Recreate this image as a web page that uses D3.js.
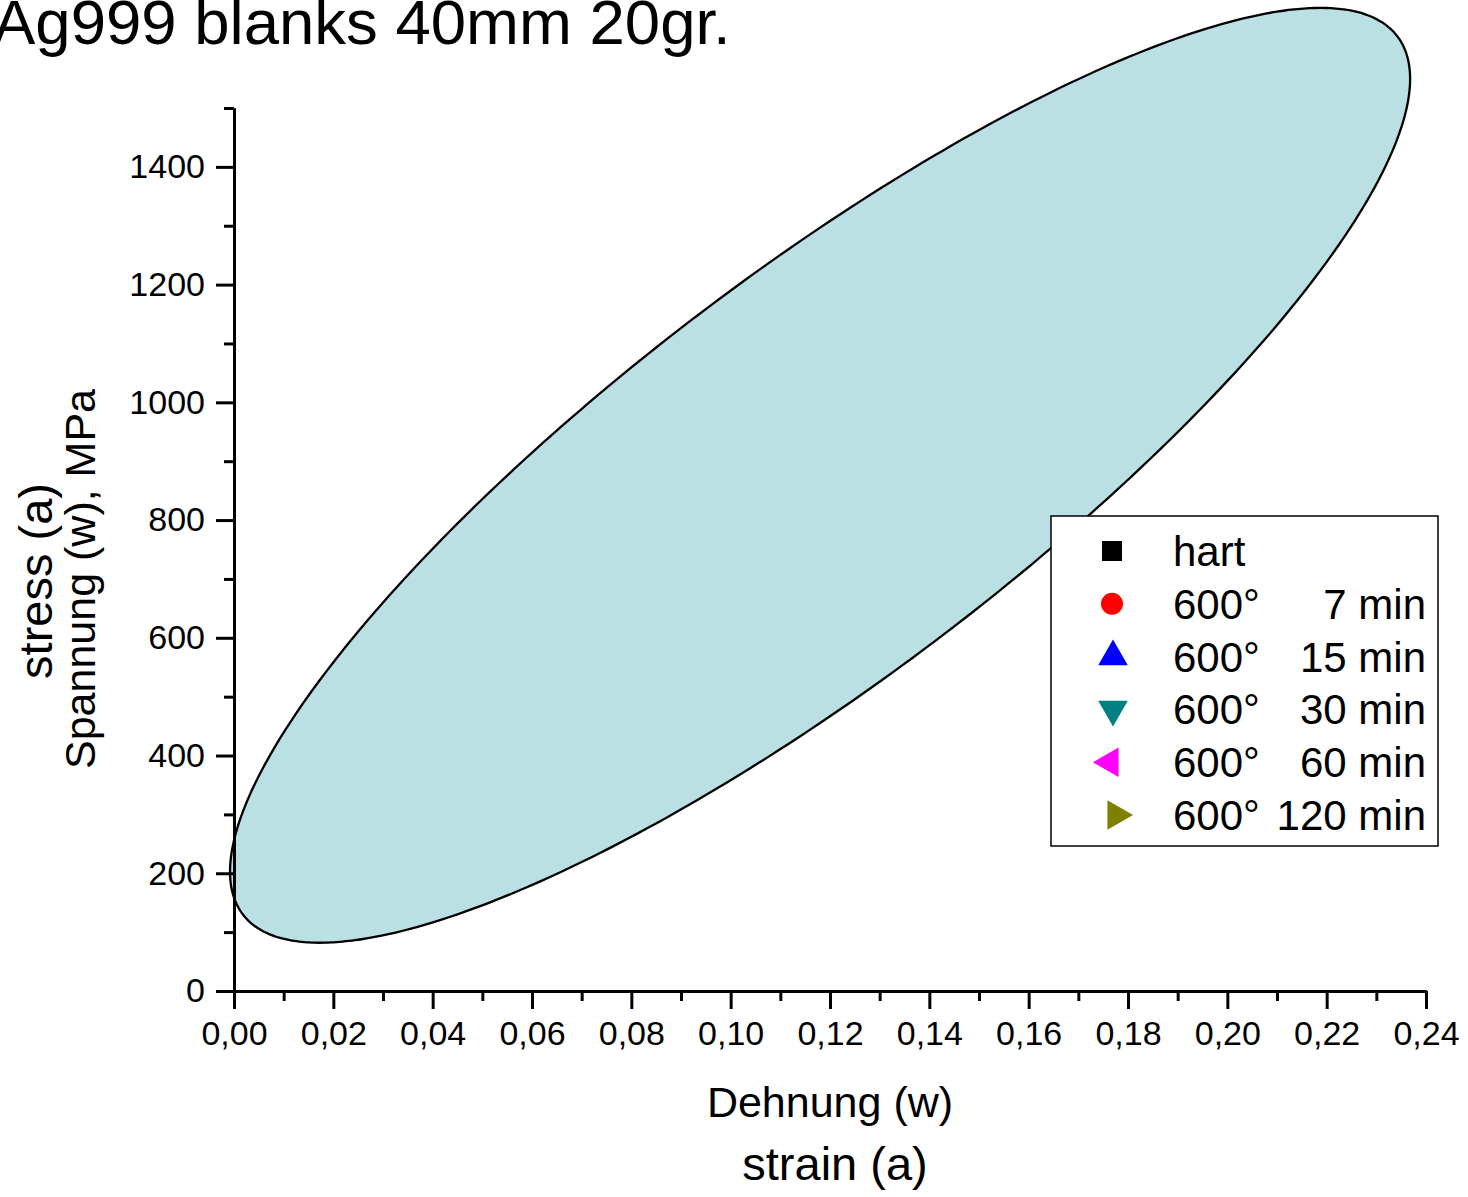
<!DOCTYPE html>
<html>
<head>
<meta charset="utf-8">
<script src="https://cdn.jsdelivr.net/npm/d3@7"></script>
<style>
  html, body { margin: 0; padding: 0; background: #fff; }
  svg { display: block; }
  text { font-family: "Liberation Sans", Arial, Helvetica, sans-serif; fill: #000; }
</style>
</head>
<body>
<svg id="chart" width="1468" height="1197"></svg>
<script>
// Axis ranges and ticks
const xDomain = [0, 0.24];
const yDomain = [0, 1500];
const xMajorTicks = [0, 0.02, 0.04, 0.06, 0.08, 0.10, 0.12, 0.14, 0.16, 0.18, 0.20, 0.22, 0.24];
const xMinorTicks = [0.01, 0.03, 0.05, 0.07, 0.09, 0.11, 0.13, 0.15, 0.17, 0.19, 0.21, 0.23];
const yMajorTicks = [0, 200, 400, 600, 800, 1000, 1200, 1400];
const yMinorTicks = [100, 300, 500, 700, 900, 1100, 1300, 1500];

// Scatter band drawn as an ellipse in data units:
// x = cx + rx·cos t, y = cy + ry·cos(t − phase)
const bandCenter = [0.118, 876];
const bandRadius = [0.1188, 794];
const bandPhaseDeg = 32;

// Legend series
const seriesTemp = ["hart", "600°", "600°", "600°", "600°", "600°"];
const seriesTime = ["", "7 min", "15 min", "30 min", "60 min", "120 min"];
const seriesColor = ["#000000", "#ff0000", "#0000ff", "#008080", "#ff00ff", "#808000"];
const seriesSymbol = ["square", "circle", "up", "down", "left", "right"];

const svg = d3.select("#chart");
const plot = { left: 234, right: 1426, top: 108, bottom: 991 };

const x = d3.scaleLinear().domain(xDomain).range([plot.left, plot.right]);
const y = d3.scaleLinear().domain(yDomain).range([plot.bottom, plot.top]);

// Title (runs off the left edge of the page)
svg.append("text")
  .attr("x", -7).attr("y", 44)
  .attr("font-size", 63.5)
  .text("Ag999 blanks 40mm 20gr.");

// Ellipse band
const ph = bandPhaseDeg * Math.PI / 180;
const ellPts = d3.range(0, 360, 1).map(deg => {
  const t = deg * Math.PI / 180;
  return [bandCenter[0] + bandRadius[0] * Math.cos(t),
          bandCenter[1] + bandRadius[1] * Math.cos(t - ph)];
});
svg.append("path")
  .datum(ellPts)
  .attr("d", d3.line().x(d => x(d[0])).y(d => y(d[1])).curve(d3.curveCardinalClosed))
  .attr("fill", "#bae0e3")
  .attr("stroke", "#000")
  .attr("stroke-width", 2.3);

// Axes
const fmtX = v => d3.format(".2f")(v).replace(".", ",");
const xAxis = d3.axisBottom(x).tickValues(xMajorTicks).tickFormat(fmtX).tickSize(18).tickSizeOuter(0).tickPadding(12);
const xAxisMinor = d3.axisBottom(x).tickValues(xMinorTicks).tickFormat("").tickSize(10).tickSizeOuter(0);
const yAxis = d3.axisLeft(y).tickValues(yMajorTicks).tickFormat(d3.format("d")).tickSize(18).tickSizeOuter(0).tickPadding(11);
const yAxisMinor = d3.axisLeft(y).tickValues(yMinorTicks).tickFormat("").tickSize(10).tickSizeOuter(0);

function styleAxis(g) {
  g.select(".domain").attr("stroke", "#000").attr("stroke-width", 3);
  g.selectAll(".tick line").attr("stroke", "#000").attr("stroke-width", 3);
  g.selectAll(".tick text").attr("font-size", 34).attr("font-family", "'Liberation Sans', Arial, sans-serif").attr("fill", "#000");
}

svg.append("g").attr("transform", `translate(0,${plot.bottom})`).call(xAxisMinor).call(styleAxis);
svg.append("g").attr("transform", `translate(0,${plot.bottom})`).call(xAxis).call(styleAxis);
svg.append("g").attr("transform", `translate(${plot.left},0)`).call(yAxisMinor).call(styleAxis);
svg.append("g").attr("transform", `translate(${plot.left},0)`).call(yAxis).call(styleAxis);

// Axis titles
svg.append("text").attr("x", 830).attr("y", 1117).attr("text-anchor", "middle")
  .attr("font-size", 43).text("Dehnung (w)");
svg.append("text").attr("x", 835).attr("y", 1180).attr("text-anchor", "middle")
  .attr("font-size", 47).text("strain (a)");
svg.append("text").attr("transform", "translate(52,581) rotate(-90)").attr("text-anchor", "middle")
  .attr("font-size", 47).text("stress (a)");
svg.append("text").attr("transform", "translate(95,579) rotate(-90)").attr("text-anchor", "middle")
  .attr("font-size", 43).text("Spannung (w), MPa");

// Legend
const legend = svg.append("g");
legend.append("rect")
  .attr("x", 1051).attr("y", 516).attr("width", 387).attr("height", 330)
  .attr("fill", "#fff").attr("stroke", "#000").attr("stroke-width", 1.5);

const rowY = d3.scalePoint().domain(d3.range(seriesTemp.length)).range([551, 815]);
const symArea = 380;
const symbolPath = {
  square: d3.symbol(d3.symbolSquare, 400)(),
  circle: d3.symbol(d3.symbolCircle, symArea)(),
  up: d3.symbol(d3.symbolTriangle, symArea)(),
  down: d3.symbol(d3.symbolTriangle, symArea)(),
  left: d3.symbol(d3.symbolTriangle, symArea)(),
  right: d3.symbol(d3.symbolTriangle, symArea)()
};
const symbolRot = { square: 0, circle: 0, up: 0, down: 180, left: -90, right: 90 };
const symbolX = { square: 1112, circle: 1112, up: 1113, down: 1113, left: 1110, right: 1116 };

seriesTemp.forEach((temp, i) => {
  const s = seriesSymbol[i];
  const cy = rowY(i);
  legend.append("path")
    .attr("d", symbolPath[s])
    .attr("transform", `translate(${symbolX[s]},${cy}) rotate(${symbolRot[s]})`)
    .attr("fill", seriesColor[i]);
  legend.append("text").attr("x", 1173).attr("y", cy + 15)
    .attr("font-size", 42).text(temp);
  if (seriesTime[i]) {
    legend.append("text").attr("x", 1426).attr("y", cy + 15)
      .attr("text-anchor", "end").attr("font-size", 42).text(seriesTime[i]);
  }
});
</script>
</body>
</html>
